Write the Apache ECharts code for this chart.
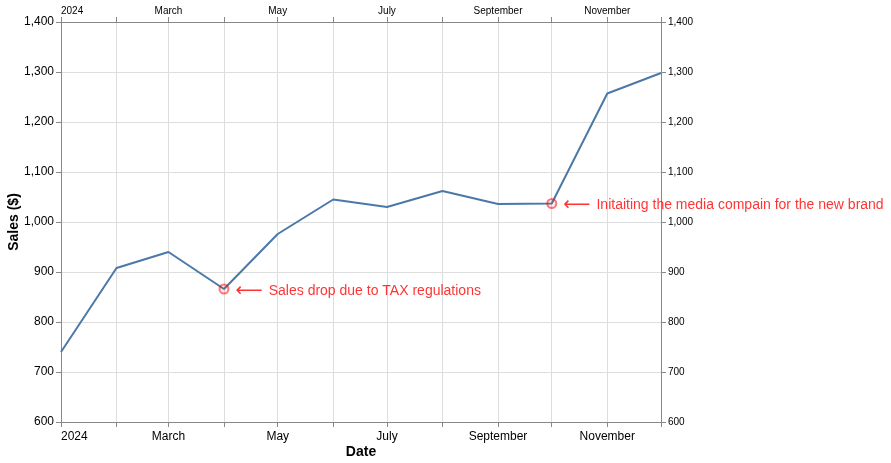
<!DOCTYPE html>
<html>
<head>
<meta charset="utf-8">
<script src="https://cdn.jsdelivr.net/npm/echarts@6/dist/echarts.min.js"></script>
<style>html,body{margin:0;padding:0;background:#fff}#c{width:891px;height:463px}</style>
</head>
<body>
<div id="c"></div>
<script>
const months = ['2024-01-01','2024-02-01','2024-03-01','2024-04-01','2024-05-01','2024-06-01','2024-07-01','2024-08-01','2024-09-01','2024-10-01','2024-11-01','2024-12-01'];
const sales = [740, 908, 940, 866, 976, 1045, 1030, 1062, 1036, 1037, 1257, 1298];
const annotDates = ['2024-04-01', '2024-10-01'];
const annotValues = [866, 1037];
const annotTexts = ['Sales drop due to TAX regulations', 'Initaiting the media compain for the new brand'];
const yTicks = [600, 700, 800, 900, 1000, 1100, 1200, 1300, 1400];
const monthNames = ['January','February','March','April','May','June','July','August','September','October','November','December'];

const FONT = 'Liberation Sans, Arial, sans-serif';
const DAY = 86400000;
function ts(s){ const p = s.split('-'); return Date.UTC(+p[0], +p[1]-1, +p[2]); }
function monthLabel(v){
  const d = new Date(v);
  const m = d.getUTCMonth();
  if (d.getUTCDate() !== 1) return '';
  if (m === 0) return String(d.getUTCFullYear());
  return (m % 2 === 0) ? monthNames[m] : '';
}
function fmtNum(v){ return v.toLocaleString('en-US'); }

const chart = echarts.init(document.getElementById('c'), null, {renderer: 'canvas'});
const xBase = {
  type: 'time',
  min: ts(months[0]),
  max: ts(months[months.length-1]),
  minInterval: 28*DAY,
  maxInterval: 31*DAY,
  axisLine: {lineStyle: {color: '#888'}},
  axisTick: {show: true, length: 5, lineStyle: {color: '#888'}},
};
chart.setOption({
  animation: false,
  useUTC: true,
  grid: {left: 61, right: 230, top: 22, bottom: 41, containLabel: false, outerBoundsMode: 'none'},
  xAxis: [
    Object.assign({}, xBase, {
      position: 'bottom',
      name: 'Date', nameLocation: 'middle', nameGap: 23, nameMoveOverlap: false,
      nameTextStyle: {fontFamily: FONT, fontSize: 14, fontWeight: 'bold', color: '#000'},
      splitLine: {show: true, lineStyle: {color: '#ddd'}},
      axisLabel: {formatter: monthLabel, fontFamily: FONT, fontSize: 12, color: '#000', margin: 9, hideOverlap: false, alignMinLabel: 'left', alignMaxLabel: 'right', showMinLabel: true, showMaxLabel: true}
    }),
    Object.assign({}, xBase, {
      position: 'top',
      splitLine: {show: false},
      axisLabel: {formatter: monthLabel, fontFamily: FONT, fontSize: 10, color: '#000', margin: 6, hideOverlap: false, alignMinLabel: 'left', alignMaxLabel: 'right', showMinLabel: true, showMaxLabel: true}
    })
  ],
  yAxis: [
    {
      type: 'value', position: 'left', min: yTicks[0], max: yTicks[yTicks.length-1], interval: 100,
      name: 'Sales ($)', nameLocation: 'middle', nameGap: 40, nameMoveOverlap: false,
      nameTextStyle: {fontFamily: FONT, fontSize: 14, fontWeight: 'bold', color: '#000'},
      axisLine: {show: true, lineStyle: {color: '#888'}},
      axisTick: {show: true, length: 5, lineStyle: {color: '#888'}},
      splitLine: {show: true, lineStyle: {color: '#ddd'}},
      axisLabel: {formatter: fmtNum, fontFamily: FONT, fontSize: 12, color: '#000', margin: 7}
    },
    {
      type: 'value', position: 'right', min: yTicks[0], max: yTicks[yTicks.length-1], interval: 100,
      axisLine: {show: true, lineStyle: {color: '#888'}},
      axisTick: {show: true, length: 5, lineStyle: {color: '#888'}},
      splitLine: {show: false},
      axisLabel: {formatter: fmtNum, fontFamily: FONT, fontSize: 10, color: '#000', margin: 7}
    }
  ],
  series: [
    {
      type: 'line', xAxisIndex: 0, yAxisIndex: 0,
      data: months.map((m, i) => [ts(m), sales[i]]),
      showSymbol: false, symbol: 'none',
      lineStyle: {color: '#4c78a8', width: 2},
      z: 2
    },
    {
      type: 'scatter', xAxisIndex: 0, yAxisIndex: 0,
      data: annotDates.map((d, i) => ({value: [ts(d), annotValues[i]], text: annotTexts[i]})),
      symbol: 'circle', symbolSize: 9,
      itemStyle: {color: 'rgba(255,0,0,0.1)', borderColor: 'rgba(255,0,0,0.65)', borderWidth: 2},
      label: {
        show: true, position: 'right', distance: 6, offset: [0, 2],
        formatter: p => '{a|⟵}{t|' + p.data.text + '}',
        rich: {
          a: {fontFamily: 'DejaVu Sans', fontSize: 19, color: '#f00', padding: [0, 6, 0, 0]},
          t: {fontFamily: FONT, fontSize: 14, color: '#f00'}
        }
      },
      z: 5
    }
  ]
});
</script>
</body>
</html>
